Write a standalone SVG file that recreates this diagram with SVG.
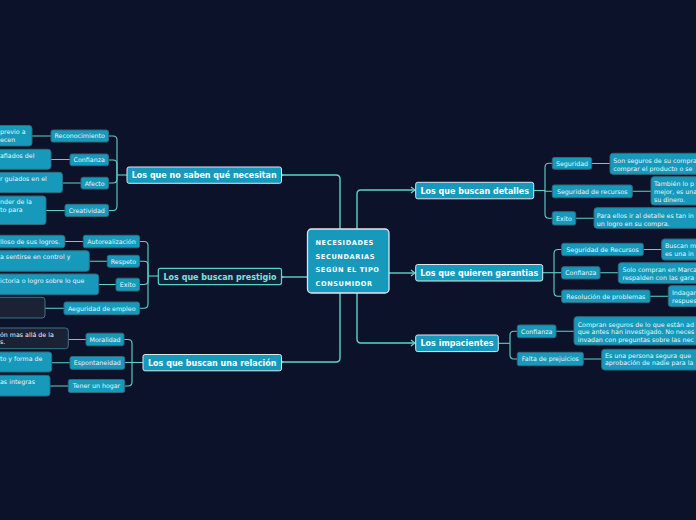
<svg xmlns="http://www.w3.org/2000/svg" width="696" height="520" viewBox="0 0 696 520">
<defs>
<style>
.bg{fill:#0c1229}
.m{fill:#1699bb;stroke:#dfe7ee;stroke-width:1}
.mp{fill:#14203a;stroke:#5ed3c8;stroke-width:1.2}
.mt{font-family:"DejaVu Sans",sans-serif;font-weight:bold;font-size:8px;fill:#ffffff;text-anchor:middle}
.mpt{font-family:"DejaVu Sans",sans-serif;font-weight:bold;font-size:8px;fill:#7fe3dc;text-anchor:middle}
.ct{font-family:"DejaVu Sans",sans-serif;font-weight:bold;font-size:6.6px;fill:#ffffff;letter-spacing:0.6px}
.s{fill:#1699bb;stroke:#33697a;stroke-width:1}
.d{fill:#1b2236;stroke:#3b7484;stroke-width:1}
.st{font-family:"DejaVu Sans",sans-serif;font-size:6.3px;fill:#eaf6fa;text-anchor:middle}
.lt{font-family:"DejaVu Sans",sans-serif;font-size:6.3px;fill:#eaf6fa}
.c{fill:none;stroke:#5ed3c8;stroke-width:1.4}
.b{fill:none;stroke:#5ed3c8;stroke-width:1.1}
</style>
<marker id="ar" markerWidth="8" markerHeight="8" refX="1" refY="4" orient="auto" markerUnits="userSpaceOnUse">
<path d="M5,1 L1,4 L5,7" fill="none" stroke="#5ed3c8" stroke-width="1.3"/>
</marker>
<marker id="ar2" markerWidth="8" markerHeight="8" refX="7" refY="4" orient="auto" markerUnits="userSpaceOnUse">
<path d="M3,1 L7,4 L3,7" fill="none" stroke="#5ed3c8" stroke-width="1.3"/>
</marker>
</defs>
<rect class="bg" x="0" y="0" width="696" height="520"/>

<g id="connectors">
<path class="c" d="M340,229 V179 Q340,175 336,175 H283" marker-end="url(#ar)"/>
<path class="c" d="M308,277 H283" marker-end="url(#ar)"/>
<path class="c" d="M340,293 V358 Q340,362 336,362 H283" marker-end="url(#ar)"/>
<path class="c" d="M357,229 V194 Q357,190 361,190 H415" marker-end="url(#ar2)"/>
<path class="c" d="M389,273 H415" marker-end="url(#ar2)"/>
<path class="c" d="M357,293 V339 Q357,343 361,343 H415" marker-end="url(#ar2)"/>

<path class="b" d="M127,175 H117"/>
<path class="b" d="M117,175 V140 Q117,136 113,136 H108.5"/>
<path class="b" d="M117,175 V164 Q117,160 113,160 H108.5"/>
<path class="b" d="M117,175 V179 Q117,183 113,183 H108.5"/>
<path class="b" d="M117,175 V206 Q117,210.5 113,210.5 H108.5"/>
<path class="b" d="M51,136 H32 M70,159.5 H51 M81,183 H62 M65,210.5 H46"/>

<path class="b" d="M158,276 H148"/>
<path class="b" d="M148,276 V245.5 Q148,241.5 144,241.5 H139.5"/>
<path class="b" d="M148,276 V265 Q148,261.3 144,261.3 H139.5"/>
<path class="b" d="M148,276 V280.5 Q148,284.5 144,284.5 H139.5"/>
<path class="b" d="M148,276 V304 Q148,308.3 144,308.3 H139.5"/>
<path class="b" d="M83.3,241.5 H65 M107.3,261.3 H89.3 M116,284.5 H98.7 M64,308.3 H45"/>

<path class="b" d="M143,362.5 H124.5"/>
<path class="b" d="M132,362.5 V343.5 Q132,339.5 128,339.5 H124"/>
<path class="b" d="M132,362.5 V382 Q132,386 128,386 H124.5"/>
<path class="b" d="M86,339.5 H68.3 M70,362.8 H51.7 M68.3,386 H50"/>

<path class="b" d="M534,190.5 H545"/>
<path class="b" d="M545,190.5 V167.3 Q545,163.3 549,163.3 H552.3"/>
<path class="b" d="M545,190.5 V191.3 H552.3"/>
<path class="b" d="M545,190.5 V214.3 Q545,218.3 549,218.3 H552.3"/>
<path class="b" d="M591.7,163.5 H610 M632.3,191.3 H651 M575.7,218.3 H594"/>

<path class="b" d="M543,272.7 H561.7"/>
<path class="b" d="M554,272.7 V253.5 Q554,249.5 558,249.5 H561.7"/>
<path class="b" d="M554,272.7 V292.3 Q554,296.3 558,296.3 H561.7"/>
<path class="b" d="M643.3,249.5 H661.7 M600,272.8 H618.3 M650,296.3 H668.3"/>

<path class="b" d="M498.3,343.3 H510"/>
<path class="b" d="M510,343.3 V335.3 Q510,331.3 514,331.3 H517.3"/>
<path class="b" d="M510,343.3 V355 Q510,359 514,359 H517.3"/>
<path class="b" d="M556,331.3 H574 M583.3,359 H601.7"/>
</g>

<g id="center">
<rect x="307.5" y="229" width="81.5" height="64" rx="4" class="m" style="stroke-width:1.3"/>
<text class="ct" x="315.5" y="244.8">NECESIDADES</text>
<text class="ct" x="315.5" y="258.8">SECUNDARIAS</text>
<text class="ct" x="315.5" y="272">SEGÚN EL TIPO</text>
<text class="ct" x="315.5" y="286">CONSUMIDOR</text>
</g>

<g id="main-no-saben">
<rect class="m" x="127" y="167" width="154.5" height="16.3" rx="2"/>
<text class="mt" x="204.2" y="178.2">Los que no saben qué necesitan</text>
</g>
<g id="main-prestigio">
<rect class="mp" x="158.3" y="268.3" width="123.2" height="16.3" rx="2"/>
<text class="mpt" x="220" y="279.5">Los que buscan prestigio</text>
</g>
<g id="main-relacion">
<rect class="m" x="143" y="354.5" width="138.5" height="16.3" rx="2"/>
<text class="mt" x="212.2" y="365.7">Los que buscan una relación</text>
</g>
<g id="main-detalles">
<rect class="m" x="415.7" y="182.3" width="118" height="16.5" rx="2"/>
<text class="mt" x="474.7" y="193.6">Los que buscan detalles</text>
</g>
<g id="main-garantias">
<rect class="m" x="415.7" y="264.5" width="127" height="16.5" rx="2"/>
<text class="mt" x="479.2" y="275.8">Los que quieren garantias</text>
</g>
<g id="main-impacientes">
<rect class="m" x="415.7" y="335" width="82.6" height="16.6" rx="2"/>
<text class="mt" x="457" y="346.3">Los impacientes</text>
</g>

<g id="sub-reconocimiento"><rect class="s" x="51" y="130" width="57.5" height="12" rx="2"/><text class="st" x="79.7" y="138.4">Reconocimiento</text></g>
<g id="sub-confianza1"><rect class="s" x="70" y="154" width="38.5" height="11.7" rx="2"/><text class="st" x="89.2" y="162.2">Confianza</text></g>
<g id="sub-afecto"><rect class="s" x="81" y="177.3" width="27.5" height="11.7" rx="2"/><text class="st" x="94.7" y="185.5">Afecto</text></g>
<g id="sub-creatividad"><rect class="s" x="65" y="204.3" width="43.5" height="12.3" rx="2"/><text class="st" x="86.7" y="212.8">Creatividad</text></g>

<g id="leaf-reconocimiento"><rect class="s" x="-20" y="125.5" width="52" height="20.5" rx="3"/><text class="lt" x="0" y="134">previo a</text><text class="lt" x="0" y="141.8">ecen</text></g>
<g id="leaf-confianza1"><rect class="s" x="-20" y="149.3" width="71" height="20" rx="3"/><text class="lt" x="0" y="157.6">afiados del</text></g>
<g id="leaf-afecto"><rect class="s" x="-20" y="172.3" width="82.5" height="20.4" rx="3"/><text class="lt" x="0" y="180.6">r guiados en el</text></g>
<g id="leaf-creatividad"><rect class="s" x="-20" y="196" width="66" height="28.5" rx="3"/><text class="lt" x="0" y="204">nder de la</text><text class="lt" x="0" y="212.3">to para</text></g>

<g id="sub-autorealizacion"><rect class="s" x="83.3" y="235.3" width="56.2" height="12.5" rx="2"/><text class="st" x="111.4" y="243.8">Autorealización</text></g>
<g id="sub-respeto"><rect class="s" x="107.3" y="255.3" width="32.2" height="12" rx="2"/><text class="st" x="123.4" y="263.6">Respeto</text></g>
<g id="sub-exito1"><rect class="s" x="116" y="278.2" width="23.5" height="12.8" rx="2"/><text class="st" x="127.7" y="286.8">Exito</text></g>
<g id="sub-aeguridad"><rect class="s" x="64" y="302" width="75.5" height="12.7" rx="2"/><text class="st" x="101.7" y="310.6">Aeguridad de empleo</text></g>

<g id="leaf-autorealizacion"><rect class="s" x="-20" y="235.3" width="85" height="12.5" rx="3"/><text class="lt" x="0" y="243.8">lloso de sus logros.</text></g>
<g id="leaf-respeto"><rect class="s" x="-20" y="250.7" width="109.3" height="20.6" rx="3"/><text class="lt" x="0" y="258.7">a sentirse en control y</text></g>
<g id="leaf-exito1"><rect class="s" x="-20" y="274" width="118.7" height="20.7" rx="3"/><text class="lt" x="0" y="282.5">ictoria o logro sobre lo que</text></g>
<g id="leaf-aeguridad"><rect class="d" x="-20" y="297.3" width="65" height="20.7" rx="3"/></g>

<g id="sub-moralidad"><rect class="s" x="86" y="333.2" width="38" height="12.6" rx="2"/><text class="st" x="105" y="341.8">Moralidad</text></g>
<g id="sub-espontaneidad"><rect class="s" x="70" y="356.5" width="54.7" height="12.8" rx="2"/><text class="st" x="97.3" y="365.2">Espontaneidad</text></g>
<g id="sub-hogar"><rect class="s" x="68.3" y="379.5" width="56.4" height="13" rx="2"/><text class="st" x="96.5" y="388.3">Tener un hogar</text></g>

<g id="leaf-moralidad"><rect class="d" x="-20" y="328" width="88.3" height="20.7" rx="3"/><text class="lt" x="0" y="337">ón mas allá de la</text><text class="lt" x="0" y="344.3">s.</text></g>
<g id="leaf-espontaneidad"><rect class="s" x="-20" y="352" width="71.7" height="20" rx="3"/><text class="lt" x="0" y="361">to y forma de</text></g>
<g id="leaf-hogar"><rect class="s" x="-20" y="375.3" width="70" height="20.7" rx="3"/><text class="lt" x="0" y="384.4">as integras</text></g>

<g id="sub-seguridad"><rect class="s" x="552.3" y="157.5" width="39.4" height="11.7" rx="2"/><text class="st" x="572" y="165.7">Seguridad</text></g>
<g id="sub-seg-recursos"><rect class="s" x="552.3" y="185" width="80" height="12.7" rx="2"/><text class="st" x="592.3" y="193.6">Seguridad de recursos</text></g>
<g id="sub-exito2"><rect class="s" x="552.3" y="211.7" width="23.4" height="13.3" rx="2"/><text class="st" x="564" y="220.6">Exito</text></g>

<g id="leaf-seguridad"><rect class="s" x="610" y="153.3" width="106" height="21" rx="3"/><text class="lt" x="613.3" y="162.5">Son seguros de su compra</text><text class="lt" x="613.3" y="170.5">comprar el producto o se</text></g>
<g id="leaf-seg-recursos"><rect class="s" x="651" y="176.7" width="65" height="28.3" rx="3"/><text class="lt" x="654" y="185.5">También lo p</text><text class="lt" x="654" y="193.5">mejor, es una</text><text class="lt" x="654" y="201.5">su dinero.</text></g>
<g id="leaf-exito2"><rect class="s" x="594" y="207.7" width="122" height="20.6" rx="3"/><text class="lt" x="596.7" y="217.5">Para ellos ir al detalle es tan in</text><text class="lt" x="596.7" y="225.5">un logro en su compra.</text></g>

<g id="sub-seg-recursos2"><rect class="s" x="561.7" y="243.3" width="81.6" height="12.4" rx="2"/><text class="st" x="602.5" y="251.8">Seguridad de Recursos</text></g>
<g id="sub-confianza2"><rect class="s" x="561.7" y="266.7" width="38.3" height="12.3" rx="2"/><text class="st" x="580.8" y="275">Confianza</text></g>
<g id="sub-resolucion"><rect class="s" x="561.7" y="290" width="88.3" height="12.7" rx="2"/><text class="st" x="605.8" y="298.6">Resolución de problemas</text></g>

<g id="leaf-seg-recursos2"><rect class="s" x="661.7" y="239" width="54" height="21" rx="3"/><text class="lt" x="665" y="248">Buscan m</text><text class="lt" x="665" y="256.3">es una in</text></g>
<g id="leaf-confianza2"><rect class="s" x="618.3" y="262.7" width="98" height="20.6" rx="3"/><text class="lt" x="622.5" y="271.5">Solo compran en Marca</text><text class="lt" x="622.5" y="279.5">respalden con las gara</text></g>
<g id="leaf-resolucion"><rect class="s" x="668.3" y="285.7" width="48" height="21" rx="3"/><text class="lt" x="672" y="294.5">Indagan</text><text class="lt" x="672" y="302.5">respues</text></g>

<g id="sub-confianza3"><rect class="s" x="517.3" y="325" width="38.7" height="12.7" rx="2"/><text class="st" x="536.7" y="333.6">Confianza</text></g>
<g id="sub-prejuicios"><rect class="s" x="517.3" y="352.3" width="66" height="13.4" rx="2"/><text class="st" x="550.3" y="361.3">Falta de prejuicios</text></g>

<g id="leaf-confianza3"><rect class="s" x="574" y="316.7" width="142" height="28.3" rx="3"/><text class="lt" x="577.7" y="326.5">Compran seguros de lo que están ad</text><text class="lt" x="577.7" y="334">que antes han investigado. No neces</text><text class="lt" x="577.7" y="341.5">invadan con preguntas sobre las nec</text></g>
<g id="leaf-prejuicios"><rect class="s" x="601.7" y="349.3" width="115" height="20.7" rx="3"/><text class="lt" x="605" y="357.5">Es una persona segura que</text><text class="lt" x="605" y="365">aprobación de nadie para la</text></g>
</svg>
